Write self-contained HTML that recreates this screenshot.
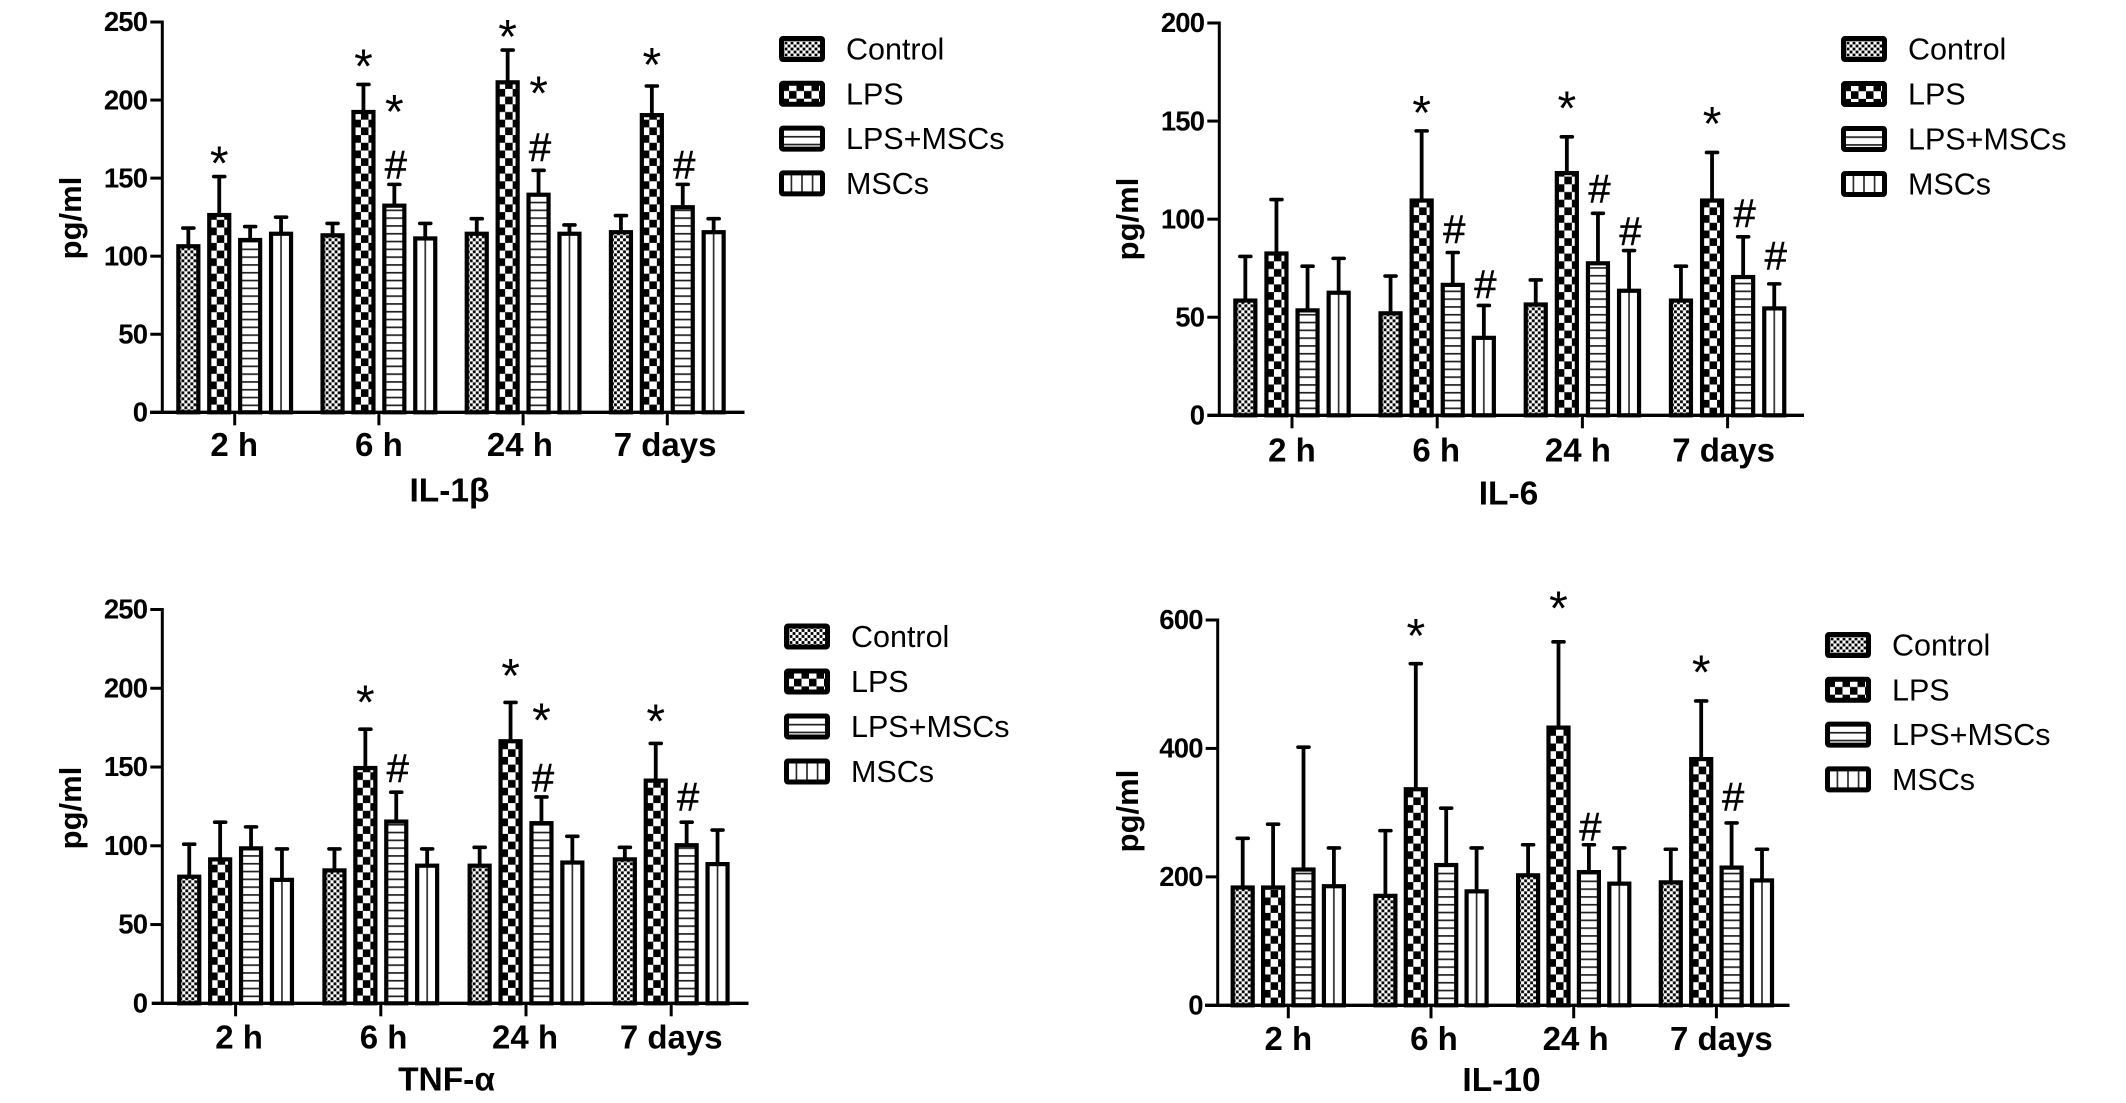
<!DOCTYPE html>
<html>
<head>
<meta charset="utf-8">
<title>Cytokine levels</title>
<style>
html,body{margin:0;padding:0;background:#fff;}
svg{display:block;}
text{font-family:"Liberation Sans",sans-serif;fill:#000;}
</style>
</head>
<body>
<svg id="figure" width="2126" height="1103" viewBox="0 0 2126 1103" xmlns="http://www.w3.org/2000/svg"><defs id="defs"></defs></svg>
<script>
const categories = ["2 h", "6 h", "24 h", "7 days"];
const seriesNames = ["Control", "LPS", "LPS+MSCs", "MSCs"];

const il1bTicks = [0, 50, 100, 150, 200, 250];
const il1bMeans = [[107,127,111,115],[114,193,133,112],[115,212,140,115],[116,191,132,116]];
const il1bErrTops = [[118,151,119,125],[121,210,146,121],[124,232,155,120],[126,209,146,124]];
const il1bSigGroups = [0,1,1,1,2,2,2,3,3];
const il1bSigSeries = [1,1,2,2,1,2,2,1,2];
const il1bSigSymbols = ["*","*","#","*","*","#","*","*","#"];
const il1bSigLifts = [14,17,11.5,52,14,13.5,55,19,11.5];

const il6Ticks = [0, 50, 100, 150, 200];
const il6Means = [[59,83,54,63],[52.5,110,67,40],[57,124,78,64],[59,110,71,55]];
const il6ErrTops = [[81,110,76,80],[71,145,83,56],[69,142,103,84],[76,134,91,67]];
const il6SigGroups = [1,1,1,2,2,2,3,3,3];
const il6SigSeries = [1,2,3,1,2,3,1,2,3];
const il6SigSymbols = ["*","#","#","*","#","#","*","#","#"];
const il6SigLifts = [13.5,11,10,19,11.5,9,19,11,13.5];

const tnfTicks = [0, 50, 100, 150, 200, 250];
const tnfMeans = [[81,92,99,79],[85,150,116,88],[88,167,115,90],[92,142,101,89]];
const tnfErrTops = [[101,115,112,98],[98,174,134,98],[99,191,131,106],[99,165,115,110]];
const tnfSigGroups = [1,1,2,2,2,3,3];
const tnfSigSeries = [1,2,1,2,2,1,2];
const tnfSigSymbols = ["*","#","*","#","*","*","#"];
const tnfSigLifts = [22.5,14,22.5,11,54,19.5,15];

const il10Ticks = [0, 200, 400, 600];
const il10Means = [[185,185,213,187],[172,338,220,179],[204,434,209,191],[193,385,216,196]];
const il10ErrTops = [[260,282,402,245],[272,532,307,245],[250,566,250,245],[243,474,284,243]];
const il10SigGroups = [1,2,2,3,3];
const il10SigSeries = [1,1,2,1,2];
const il10SigSymbols = ["*","*","#","*","#"];
const il10SigLifts = [57,66,25,58,38];

const svg = document.getElementById('figure');
const defs = document.getElementById('defs');
const NS = 'http://www.w3.org/2000/svg';
let patId = 0;

function mk(tag, attrs, parent) {
  const el = document.createElementNS(NS, tag);
  for (const k in attrs) el.setAttribute(k, attrs[k]);
  parent.appendChild(el);
  return el;
}

function makePattern(kind, left, bottom, centre) {
  const id = 'pat' + (patId++);
  const sizes = [[6, 6], [15, 15.4], [10, 7.8], [10.6, 10]];
  const w = sizes[kind][0], h = sizes[kind][1];
  const ox = kind === 3 ? centre - w / 2 : left;
  const p = mk('pattern', {id: id, patternUnits: 'userSpaceOnUse', x: ox, y: bottom, width: w, height: h}, defs);
  mk('rect', {x: 0, y: 0, width: w, height: h, fill: '#fff'}, p);
  if (kind === 0) {
    mk('rect', {x: 0.1, y: 0.1, width: 2.8, height: 2.8, fill: '#000'}, p);
    mk('rect', {x: 3.1, y: 3.1, width: 2.8, height: 2.8, fill: '#000'}, p);
  } else if (kind === 1) {
    mk('rect', {x: 0, y: 0, width: w / 2, height: h / 2, fill: '#000'}, p);
    mk('rect', {x: w / 2, y: h / 2, width: w / 2, height: h / 2, fill: '#000'}, p);
  } else if (kind === 2) {
    mk('rect', {x: 0, y: 0, width: w, height: 1.7, fill: '#222'}, p);
  } else {
    mk('rect', {x: w / 2 - 0.8, y: 0, width: 1.6, height: h, fill: '#222'}, p);
  }
  return 'url(#' + id + ')';
}

function drawPanel(cfg, ticks, means, errTops, sigGroups, sigSeries, sigSymbols, sigLifts) {
  const g = mk('g', {}, svg);
  
  
  const vTop = ticks[ticks.length - 1];
  const yOf = v => cfg.y0 - (v / vTop) * (cfg.y0 - cfg.yTop);
  const grpX = i => cfg.x0 + i * cfg.groupStep;
  const barX = (i, s) => grpX(i) + (s - 1.5) * cfg.barStep;

  means.forEach((row, i) => {
    row.forEach((val, s) => {
      const cx = barX(i, s);
      const errLine = mk('line', {x1: cx, x2: cx, y1: yOf(val), y2: yOf(errTops[i][s]), stroke: '#000', 'stroke-width': 3.8}, g);
      
      
      const cap = mk('line', {x1: cx - 5.5, x2: cx + 5.5, y1: yOf(errTops[i][s]), y2: yOf(errTops[i][s]), stroke: '#000', 'stroke-width': 3.6, 'stroke-linecap': 'round'}, g);
      
      
      const barTop = yOf(val) + 1;
      const bar = mk('rect', {x: cx - 10, y: barTop, width: 20, height: cfg.y0 - barTop, fill: makePattern(s, cx - 10, cfg.y0, cx), stroke: '#000', 'stroke-width': 4.2}, g);
      
      
    });
  });

  sigSymbols.forEach((sym, k) => {
    const i = sigGroups[k], s = sigSeries[k];
    const level = yOf(errTops[i][s] + sigLifts[k]);
    const isStar = sym === '*';
    const size = isStar ? 48 : 40;
    const shift = isStar ? 0.58 * size - 3 : 0.35 * size - 2;
    const t = mk('text', {x: barX(i, s) + (isStar ? 0 : 1.5), y: level + shift, 'text-anchor': 'middle', 'font-size': size, stroke: '#000', 'stroke-width': isStar ? 0 : 0.5}, g);
    t.textContent = sym;
    
    
  });

  const yAxis = mk('line', {x1: cfg.axisX, x2: cfg.axisX, y1: cfg.yTop - 1.5, y2: cfg.y0, stroke: '#000', 'stroke-width': 3}, g);
  
  
  const xAxis = mk('line', {x1: cfg.xStart, x2: cfg.xEnd, y1: cfg.y0, y2: cfg.y0, stroke: '#000', 'stroke-width': 3.4}, g);
  
  

  ticks.forEach(v => {
    const y = yOf(v);
    if (v !== 0) {
      const tk = mk('line', {x1: cfg.axisX - 12, x2: cfg.axisX, y1: y, y2: y, stroke: '#000', 'stroke-width': 3}, g);
      
      
    }
    const t = mk('text', {x: cfg.axisX - 15, y: y + 9.2, 'text-anchor': 'end', 'font-size': 27.5, 'font-weight': 'bold', 'letter-spacing': '-0.8'}, g);
    t.textContent = v;
    
    
  });

  categories.forEach((c, i) => {
    const tk = mk('line', {x1: grpX(i), x2: grpX(i), y1: cfg.y0, y2: cfg.y0 + 13, stroke: '#000', 'stroke-width': 3}, g);
    
    
    const t = mk('text', {x: grpX(i) + cfg.labelShift[i], y: cfg.catY, 'text-anchor': 'middle', 'font-size': 33, 'font-weight': 'bold'}, g);
    t.textContent = c;
    
    
  });

  const title = mk('text', {x: cfg.titleX, y: cfg.titleY, 'text-anchor': 'middle', 'font-size': 33.5, 'font-weight': 'bold'}, g);
  title.textContent = cfg.title;
  
  

  const yTitle = mk('text', {x: 0, y: 0, transform: 'translate(' + cfg.yTitleX + ' ' + cfg.yTitleY + ') rotate(-90)', 'text-anchor': 'middle', 'font-size': 31, 'font-weight': 'bold'}, g);
  yTitle.textContent = 'pg/ml';
  
  

  seriesNames.forEach((name, s) => {
    const ly = cfg.legendY + s * cfg.legendStep;
    const entry = mk('g', {}, g);
    
    
    const sw = mk('rect', {x: cfg.legendX + 2.5, y: ly - 10.5, width: 41, height: 21, rx: 1.5, fill: makePattern(s, cfg.legendX + 2.5, ly - 10.5, cfg.legendX + 23), stroke: '#000', 'stroke-width': 5}, entry);
    
    
    const t = mk('text', {x: cfg.legendX + 67, y: ly + 10.5, 'font-size': 30.5}, entry);
    t.textContent = name;
    
    
  });
}

drawPanel({key: 'il-1b', title: 'IL-1β', axisX: 162.3, y0: 412.3, yTop: 22, x0: 234.7, groupStep: 144.2, barStep: 30.9,
  xStart: 150, xEnd: 744.5, catY: 456, titleX: 449.5, titleY: 501.5, yTitleX: 81, yTitleY: 218, labelShift: [-0.5, 0, -3.2, -2.2],
  legendX: 779, legendY: 49, legendStep: 44.8}, il1bTicks, il1bMeans, il1bErrTops, il1bSigGroups, il1bSigSeries, il1bSigSymbols, il1bSigLifts);

drawPanel({key: 'il-6', title: 'IL-6', axisX: 1219.3, y0: 415.3, yTop: 23, x0: 1292, groupStep: 145.2, barStep: 31.1,
  xStart: 1207.3, xEnd: 1804, catY: 461.7, titleX: 1508.5, titleY: 504.5, yTitleX: 1138, yTitleY: 219, labelShift: [0, -1, -4.5, -4],
  legendX: 1841, legendY: 49, legendStep: 45}, il6Ticks, il6Means, il6ErrTops, il6SigGroups, il6SigSeries, il6SigSymbols, il6SigLifts);

drawPanel({key: 'tnf-a', title: 'TNF-α', axisX: 162.3, y0: 1003.3, yTop: 609.5, x0: 235.6, groupStep: 145.2, barStep: 30.9,
  xStart: 151.7, xEnd: 748.5, catY: 1048.3, titleX: 446.5, titleY: 1090.5, yTitleX: 81, yTitleY: 808, labelShift: [3.5, 2.8, -1, 0],
  legendX: 784, legendY: 636.5, legendStep: 45}, tnfTicks, tnfMeans, tnfErrTops, tnfSigGroups, tnfSigSeries, tnfSigSymbols, tnfSigLifts);

drawPanel({key: 'il-10', title: 'IL-10', axisX: 1217.7, y0: 1005.3, yTop: 620, x0: 1288.3, groupStep: 142.7, barStep: 30.4,
  xStart: 1205, xEnd: 1789.5, catY: 1050, titleX: 1501.5, titleY: 1091, yTitleX: 1138, yTitleY: 811, labelShift: [0, 3, 2, 5],
  legendX: 1825, legendY: 645, legendStep: 44.8}, il10Ticks, il10Means, il10ErrTops, il10SigGroups, il10SigSeries, il10SigSymbols, il10SigLifts);
</script>
</body>
</html>
